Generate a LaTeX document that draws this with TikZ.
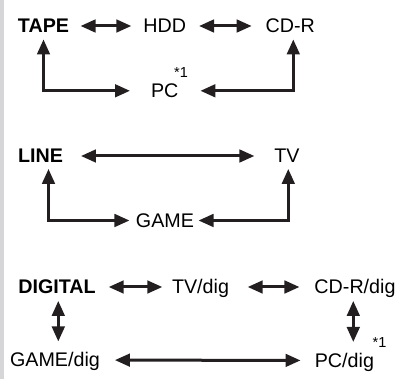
\documentclass[tikz,border=0pt]{standalone}
\usepackage{fontspec}
\setmainfont{Liberation Sans}
\usetikzlibrary{arrows.meta,positioning,calc}

\definecolor{barcol}{HTML}{D6D6D9}
\definecolor{inkcol}{HTML}{231F20}

\tikzset{
  hd/.tip={Triangle[length=15pt,width=12.5pt]},
  src/.style={font=\fontsize{19.7}{22}\selectfont, inner sep=0pt, outer sep=0pt,
    text height=13.8pt, text depth=0pt},
  srcb/.style={src, font=\fontsize{19.7}{22}\selectfont\bfseries},
  note/.style={font=\fontsize{14.5}{16}\selectfont, inner sep=0pt},
  link/.style={hd-hd, line width=3pt, draw=inkcol}
}

\begin{document}
\begin{tikzpicture}[x=1pt,y=-1pt]
\useasboundingbox (0,0) rectangle (400,379);
% side bar
\fill[barcol] (0,0) rectangle (4.3,379);
% Group 1: tape sources
\node[srcb] (tape) at (43.5,26) {TAPE};
\node[src] (hdd) at (164.7,26) {HDD};
\node[src] (cdr) at (290.3,26) {CD-R};
\node[src] (pc) at (164.7,90.8) {PC};
\node[note] (pcn) at (181,72.5) {*1};
\draw[link, shorten <=11.5pt, shorten >=12pt] (tape) -- (hdd);
\draw[link, shorten <=13pt, shorten >=14pt] (hdd) -- (cdr);
\draw[link, shorten <=6.5pt, shorten >=21pt] (tape.south) |- (pc.west);
\draw[link, shorten <=6.5pt, shorten >=22pt] ([xshift=3pt]cdr.south) |- (pc.east);
% Group 2: line sources
\node[srcb] (line) at (40.5,156) {LINE};
\node[src] (tv) at (287,156) {TV};
\node[src] (game) at (165,220.5) {GAME};
\draw[link, shorten <=18pt, shorten >=20pt] (line) -- (tv);
\draw[link, shorten <=6pt, shorten >=6.5pt] ([xshift=8pt]line.south) |- (game.west);
\draw[link, shorten <=6pt, shorten >=4.5pt] ([xshift=1.3pt]tv.south) |- (game.east);
% Group 3: digital sources
\node[srcb] (digital) at (57,287) {DIGITAL};
\node[src] (tvdig) at (200.5,287) {TV/dig};
\node[src] (cdrdig) at (355,287) {CD-R/dig};
\node[src] (gamedig) at (55,360) {GAME/dig};
\node[src] (pcdig) at (344.4,360.5) {PC/dig};
\node[note] (pcdign) at (379.5,342.5) {*1};
\draw[link, shorten <=13pt, shorten >=9.7pt] (digital) -- (tvdig);
\draw[link, shorten <=18.7pt, shorten >=15pt] (tvdig) -- (cdrdig);
\draw[link, shorten <=7pt, shorten >=11.6pt] ([xshift=1.3pt]digital.south) -- ([xshift=1.3pt]digital.south |- gamedig.north);
\draw[link, shorten <=7pt, shorten >=11.6pt] ([xshift=-1.7pt]cdrdig.south) -- ([xshift=-1.7pt]cdrdig.south |- pcdig.north);
\draw[link, shorten <=15pt, shorten >=14.3pt] (gamedig) -- (pcdig);
\end{tikzpicture}
\end{document}
